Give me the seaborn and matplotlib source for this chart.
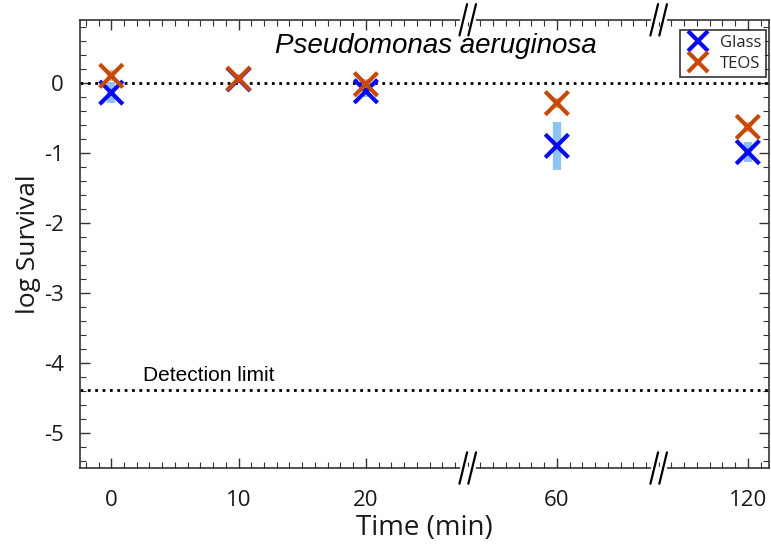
import matplotlib
matplotlib.use("Agg")
import matplotlib.pyplot as plt
from matplotlib.ticker import MultipleLocator
import seaborn as sns
import pandas as pd
import numpy as np

# data
times = ["0", "10", "20", "60", "120"]
positions = [0, 1, 2, 3.5, 5]          # broken x axis: equal-ish spacing per segment
glass = [-0.14, 0.05, -0.12, -0.90, -0.99]
glass_err = [0.15, 0.05, 0.08, 0.34, 0.14]
teos = [0.10, 0.06, -0.02, -0.29, -0.63]
teos_err = [0.08, 0.06, 0.07, 0.07, 0.07]
detection_limit = -4.39
breaks = [2.8, 4.3]

blue = "#0A0AF0"
orange = "#C54A0A"
blue_light = "#8FC4F2"
orange_light = "#F2AE90"

sns.set_theme(style="ticks")
plt.rcParams["font.family"] = ["Open Sans", "DejaVu Sans"]
plt.rcParams["axes.unicode_minus"] = False

df = pd.DataFrame({
    "pos": positions * 2,
    "val": glass + teos,
    "surface": ["Glass"] * 5 + ["TEOS"] * 5,
})

fig = plt.figure(figsize=(7.71, 5.5), dpi=100)
ax = fig.add_axes([0.104, 0.149, 0.894, 0.815])

ax.axhline(0, color="black", ls=":", lw=2, zorder=1)
ax.axhline(detection_limit, color="black", ls=":", lw=2, zorder=1)

ax.errorbar(positions, glass, yerr=glass_err, fmt="none", ecolor=blue_light, elinewidth=6, capsize=0, zorder=2)
ax.errorbar(positions, teos, yerr=teos_err, fmt="none", ecolor=orange_light, elinewidth=6, capsize=0, zorder=2)

sns.scatterplot(data=df, x="pos", y="val", hue="surface", palette={"Glass": blue, "TEOS": orange},
                marker="x", s=280, linewidth=3, ax=ax, zorder=3, legend=False)

# legend handles
h1, = ax.plot([], [], "x", color=blue, ms=14, mew=3, label="Glass")
h2, = ax.plot([], [], "x", color=orange, ms=14, mew=3, label="TEOS")
leg = ax.legend(handles=[h1, h2], loc="upper right", bbox_to_anchor=(1.0, 0.985), fontsize=12,
                frameon=True, fancybox=False, edgecolor="black", handlelength=1.6,
                handletextpad=0.5, borderpad=0.3, labelspacing=0.3, borderaxespad=0.2)
leg.get_frame().set_linewidth(1.2)

ax.set_xlim(-0.244, 5.17)
ax.set_ylim(-5.5, 0.9)
ax.set_xticks(positions)
ax.set_xticklabels(times)
ax.set_yticks([0, -1, -2, -3, -4, -5])
ax.xaxis.set_minor_locator(MultipleLocator(0.1))
ax.yaxis.set_minor_locator(MultipleLocator(0.2))
ax.tick_params(which="both", direction="in", top=True, right=True, colors="#333333", labelcolor="#1a1a1a")
ax.tick_params(which="major", length=7, width=1, labelsize=16)
ax.tick_params(axis="x", which="major", pad=16)
ax.tick_params(axis="y", which="major", pad=12)
ax.tick_params(which="minor", length=4, width=0.8)
for s in ax.spines.values():
    s.set_linewidth(1.2)
    s.set_color("#333333")

ax.set_xlabel("Time (min)", fontsize=20, labelpad=2, color="#1a1a1a")
ax.set_ylabel("log Survival", fontsize=19, labelpad=2, color="#1a1a1a")

ax.text(2.55, 0.52, "Pseudomonas aeruginosa", style="italic", fontsize=20,
        family="Liberation Sans", ha="center", va="center", color="black")
ax.text(0.25, detection_limit + 0.07, "Detection limit", fontsize=15,
        family="Liberation Sans", ha="left", va="bottom", color="black")

# axis break marks on top and bottom spines
for b in breaks:
    for y0 in (0.0, 1.0):
        for dx in (-0.035, 0.035):
            ax.plot([b + dx - 0.03, b + dx + 0.03], [y0 - 0.035, y0 + 0.035],
                    transform=ax.get_xaxis_transform(), color="black", lw=1.6, clip_on=False, zorder=5)
        ax.plot([b - 0.05, b + 0.05], [y0, y0], transform=ax.get_xaxis_transform(),
                color="white", lw=2.5, clip_on=False, zorder=4)

fig.savefig("out.png", dpi=100)
